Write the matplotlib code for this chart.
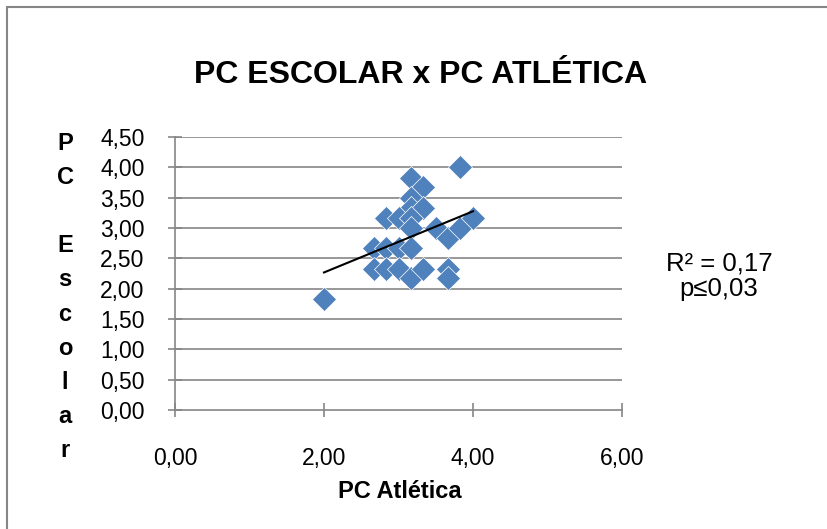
import numpy as np
import matplotlib.pyplot as plt
from matplotlib.patches import Rectangle
from matplotlib.ticker import FuncFormatter

plt.rcParams['font.family'] = ['Liberation Sans', 'DejaVu Sans']

# PC Atlética (x) vs PC Escolar (y)
pc_atletica = [2.00, 3.83, 3.17, 3.33, 3.17, 3.17, 3.33, 2.83, 3.00, 3.17,
               3.17, 3.50, 3.67, 3.83, 4.00, 2.67, 2.83, 3.00, 3.17, 2.67,
               2.83, 3.00, 3.17, 3.33, 3.67, 3.67]
pc_escolar = [1.83, 4.00, 3.83, 3.67, 3.50, 3.33, 3.33, 3.17, 3.17, 3.17,
              3.00, 3.00, 2.83, 3.00, 3.17, 2.67, 2.67, 2.67, 2.67, 2.33,
              2.33, 2.33, 2.17, 2.33, 2.33, 2.17]
x_ticks = [0, 2, 4, 6]
y_ticks = [0, 0.5, 1, 1.5, 2, 2.5, 3, 3.5, 4, 4.5]

W, H = 827, 529
fig = plt.figure(figsize=(W / 100, H / 100), dpi=100)
ax = fig.add_axes([175 / W, 1 - 410 / H, (622 - 175) / W, (410 - 137) / H])

# outer chart border (Excel style)
fig.patches.append(Rectangle((7 / W, -0.1), 1.1, 1 - 7 / H + 0.1,
                             transform=fig.transFigure, fill=False,
                             edgecolor='#868686', linewidth=1.5))

grid_c = '#868686'
for y in y_ticks[1:]:
    ax.axhline(y, color=grid_c, linewidth=1.2, zorder=0)

ax.scatter(pc_atletica, pc_escolar, marker='D', s=150, color='#4f81bd',
           edgecolors='white', linewidths=0.5, zorder=3)

# linear trend line
slope, icpt = np.polyfit(pc_atletica, pc_escolar, 1)
xs = np.array([min(pc_atletica), max(pc_atletica)])
ax.plot(xs, slope * xs + icpt, color='black', linewidth=1.5, zorder=4)

ax.set_xlim(0, 6)
ax.set_ylim(0, 4.5)
ax.set_xticks(x_ticks)
ax.set_yticks(y_ticks)
fmt = FuncFormatter(lambda v, p: f'{v:.2f}'.replace('.', ','))
ax.xaxis.set_major_formatter(fmt)
ax.yaxis.set_major_formatter(fmt)

for s in ['top', 'right']:
    ax.spines[s].set_visible(False)
for s in ['left', 'bottom']:
    ax.spines[s].set_color(grid_c)
    ax.spines[s].set_linewidth(1.2)
ax.tick_params(axis='both', direction='inout', length=10, width=1.2,
               color=grid_c, labelsize=16.5, labelcolor='black')
ax.tick_params(axis='y', pad=17)
ax.tick_params(axis='x', pad=22)

fig.text(421 / W, 1 - 75 / H, 'PC ESCOLAR x PC ATLÉTICA', ha='center',
         va='center', fontsize=23, fontweight='bold')
fig.text(400 / W, 1 - 492 / H, 'PC Atlética', ha='center', va='center',
         fontsize=17, fontweight='bold')
fig.text(65 / W, 1 - 297 / H, 'P\nC\n\nE\ns\nc\no\nl\na\nr', ha='center',
         va='center', fontsize=17, fontweight='bold', linespacing=1.62)
fig.text(719 / W, 1 - 276 / H, 'R² = 0,17\np≤0,03', ha='center',
         va='center', fontsize=18.5, linespacing=1.1)

fig.savefig('out.png', dpi=100)
